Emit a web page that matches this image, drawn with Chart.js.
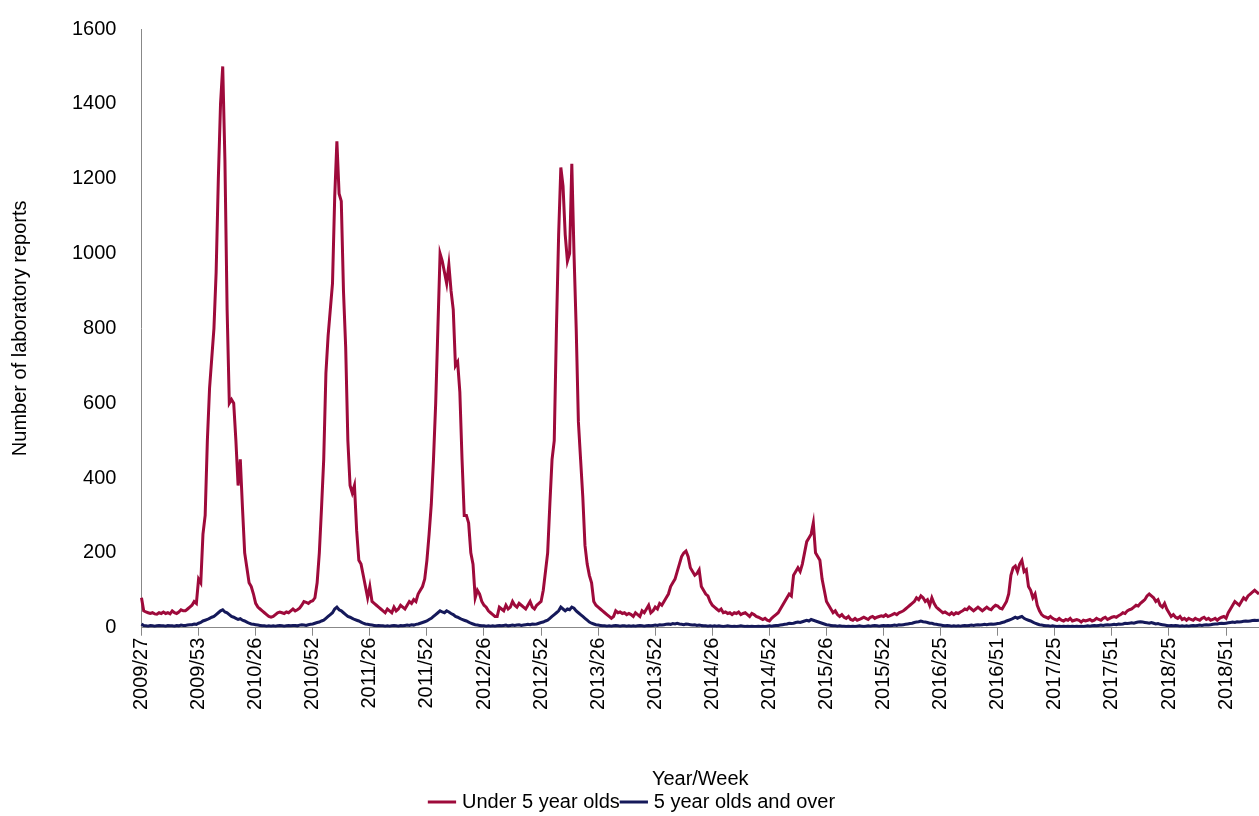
<!DOCTYPE html>
<html>
<head>
<meta charset="utf-8">
<script src="https://cdn.jsdelivr.net/npm/chart.js@4"></script>
<style>
  html, body { margin: 0; padding: 0; background: #fff; }
  #wrap { width: 1259px; height: 816px; }
</style>
</head>
<body>
<div id="wrap"><canvas id="grafico"></canvas></div>
<script>
// weekly labels 2009/27 .. 2019/14 (2009 and 2015 have 53 weeks)
const weekLabels = [];
(function () {
    let y = 2009, w = 27;
    for (let i = 0; i < 510; i++) {
        weekLabels.push(y + '/' + String(w).padStart(2, '0'));
        w++;
        const maxW = (y === 2009 || y === 2015) ? 53 : 52;
        if (w > maxW) { w = 1; y++; }
    }
})();

const under5 = [
    80,45,42,40,38,40,37,36,40,38, 42,38,40,37,45,40,38,42,48,45,
    45,50,55,60,70,65,130,120,250,300, 500,640,720,800,950,1200,1400,1500,1250,850,
    600,610,600,500,380,450,320,200,160,120, 110,90,65,55,50,45,40,35,30,28,
    30,35,40,42,40,38,42,40,45,50, 45,48,52,60,70,68,65,70,72,80,
    120,200,320,450,680,780,850,920,1150,1300, 1160,1140,900,750,500,380,360,380,260,180,
    170,140,110,80,110,70,65,60,55,50, 45,40,50,45,40,55,45,50,60,55,
    50,60,70,65,75,70,90,100,110,130, 180,250,330,450,600,800,1000,980,950,920,
    970,900,850,700,710,630,450,300,300,280, 200,170,80,100,90,70,60,55,45,40,
    35,30,30,55,50,45,60,50,55,70, 60,55,65,60,55,50,60,70,55,50,
    60,65,70,100,150,200,330,450,500,800, 1050,1230,1180,1050,980,1000,1240,1000,800,550,
    450,350,220,170,140,120,70,60,55,50, 45,40,35,30,25,30,45,40,42,38,
    40,35,38,35,30,40,35,30,45,40, 50,60,40,45,55,50,65,60,70,80,
    90,110,120,130,150,170,190,200,205,190, 160,150,140,145,155,110,100,90,85,70,
    60,55,50,45,50,40,42,38,40,35, 40,38,42,35,38,40,35,30,38,35,
    30,28,25,22,25,20,18,25,30,35, 40,50,60,70,80,90,85,140,150,160,
    150,170,200,230,240,250,280,200,190,180, 130,100,70,60,50,40,45,35,30,35,
    28,25,30,22,20,25,20,22,25,28, 25,22,28,30,25,28,30,32,30,35,
    30,32,35,38,35,40,42,45,50,55, 60,65,70,80,75,85,80,70,75,60,
    80,65,55,50,45,40,42,38,35,40, 35,40,38,42,45,50,48,55,50,45,
    50,55,50,45,50,55,50,48,55,60, 58,52,50,60,70,90,140,160,165,150,
    170,180,150,155,110,100,80,90,60,45, 35,30,28,25,30,25,22,20,25,20,
    18,22,20,25,18,20,22,20,15,20, 18,20,22,18,20,25,22,20,25,28,
    22,25,28,30,28,32,35,40,38,45, 48,50,55,60,58,65,70,75,85,90,
    85,80,70,75,60,55,65,50,40,30, 35,28,25,30,22,25,20,25,22,20,
    25,22,20,25,28,22,25,20,22,25, 20,25,28,30,25,40,50,60,70,65,
    60,70,80,75,85,90,95,100,95,90
];

const over5 = [
    10,6,5,4,6,5,4,5,6,5, 5,4,6,5,5,4,6,5,7,6,
    6,7,8,8,10,9,12,14,18,20, 22,25,28,30,35,40,45,48,42,40,
    35,30,28,25,22,24,20,18,15,12, 10,9,8,7,6,5,5,4,5,4,
    5,4,5,6,5,4,5,6,5,6, 6,5,7,8,7,6,8,9,10,12,
    14,15,18,20,25,30,35,40,50,55, 48,45,40,35,30,28,25,22,20,18,
    15,12,10,9,8,7,6,5,6,5, 5,4,5,4,5,6,5,4,6,5,
    6,7,6,8,7,9,10,12,14,16, 18,22,25,30,35,40,45,42,40,45,
    42,38,35,30,28,25,22,20,18,15, 12,10,8,7,6,5,5,4,5,4,
    5,4,5,6,5,6,7,5,6,7, 6,7,8,6,7,8,9,8,10,9,
    10,12,14,15,18,20,25,30,35,40, 45,55,50,45,50,48,55,52,45,40,
    35,30,25,20,15,12,10,8,7,6, 5,5,4,5,4,5,6,5,4,5,
    5,4,5,4,5,4,5,6,5,4, 5,6,5,6,7,6,8,7,8,9,
    10,9,11,10,12,10,9,8,10,9, 8,7,8,6,7,6,5,5,4,5,
    4,5,4,5,4,3,4,5,4,3, 4,3,4,5,4,3,4,3,4,3,
    3,4,3,4,3,4,5,4,5,6, 6,7,8,9,10,12,11,12,14,15,
    14,16,18,20,18,22,20,18,16,14, 12,10,8,7,6,5,5,4,5,4,
    4,3,4,3,4,3,4,5,4,3, 4,5,4,5,6,5,4,5,6,5,
    6,5,6,7,6,8,7,8,9,10, 11,12,14,15,16,18,16,15,14,12,
    12,10,9,8,7,6,5,6,5,4, 5,4,5,4,5,6,5,6,7,6,
    7,8,7,8,9,8,9,10,9,10, 11,12,14,15,18,20,22,25,28,25,
    28,30,25,22,20,18,15,12,10,8, 7,6,5,5,4,5,4,3,4,3,
    4,3,4,3,4,3,4,3,4,3, 4,5,4,5,6,5,6,7,6,7,
    8,7,8,9,8,10,9,10,12,11, 12,13,12,14,15,16,15,14,13,12,
    14,12,10,11,9,8,7,6,5,6, 5,6,5,4,5,4,5,4,5,6,
    5,6,7,6,7,8,7,8,9,10, 10,11,12,11,12,13,14,15,14,16,
    15,16,17,18,17,18,19,20,19,20
];

const TICK_EVERY = 26;
const fonte = { family: 'Liberation Sans, Arial, sans-serif', size: 20 };

Chart.defaults.color = '#000';
new Chart(document.getElementById('grafico'), {
    type: 'line',
    data: {
        labels: weekLabels,
        datasets: [
            { label: 'Under 5 year olds', data: under5, borderColor: '#9E0A3B', backgroundColor: '#9E0A3B', borderWidth: 3, pointRadius: 0, tension: 0 },
            { label: '5 year olds and over', data: over5, borderColor: '#15195A', backgroundColor: '#15195A', borderWidth: 3, pointRadius: 0, tension: 0 }
        ]
    },
    options: {
        responsive: true,
        maintainAspectRatio: false,
        animation: false,
        layout: { padding: { top: -4, right: 0, left: 8, bottom: -6 } },
        plugins: {
            legend: {
                position: 'bottom',
                labels: { font: fonte, usePointStyle: true, pointStyle: 'line', boxWidth: 38, padding: 4 }
            },
            tooltip: { enabled: false }
        },
        scales: {
            x: {
                offset: false,
                afterFit: scale => { scale.paddingRight = 0; },
                grid: {
                    drawOnChartArea: false,
                    tickLength: 8,
                    color: ctx => (ctx.index % TICK_EVERY === 0 ? '#888' : 'rgba(0,0,0,0)')
                },
                border: { color: '#888' },
                ticks: {
                    autoSkip: false, minRotation: 90, maxRotation: 90, font: fonte, padding: 2,
                    callback: (v, i) => (i % TICK_EVERY === 0 ? weekLabels[i] : '')
                },
                title: { display: true, text: 'Year/Week', font: fonte, padding: { top: 55, bottom: -3 } }
            },
            y: {
                min: 0, max: 1600,
                grid: { display: false },
                border: { color: '#888' },
                ticks: { stepSize: 200, font: fonte, padding: 17, callback: v => String(v) },
                title: { display: true, text: 'Number of laboratory reports', font: fonte, padding: { top: 0, bottom: 23 } }
            }
        }
    }
});
</script>
</body>
</html>
